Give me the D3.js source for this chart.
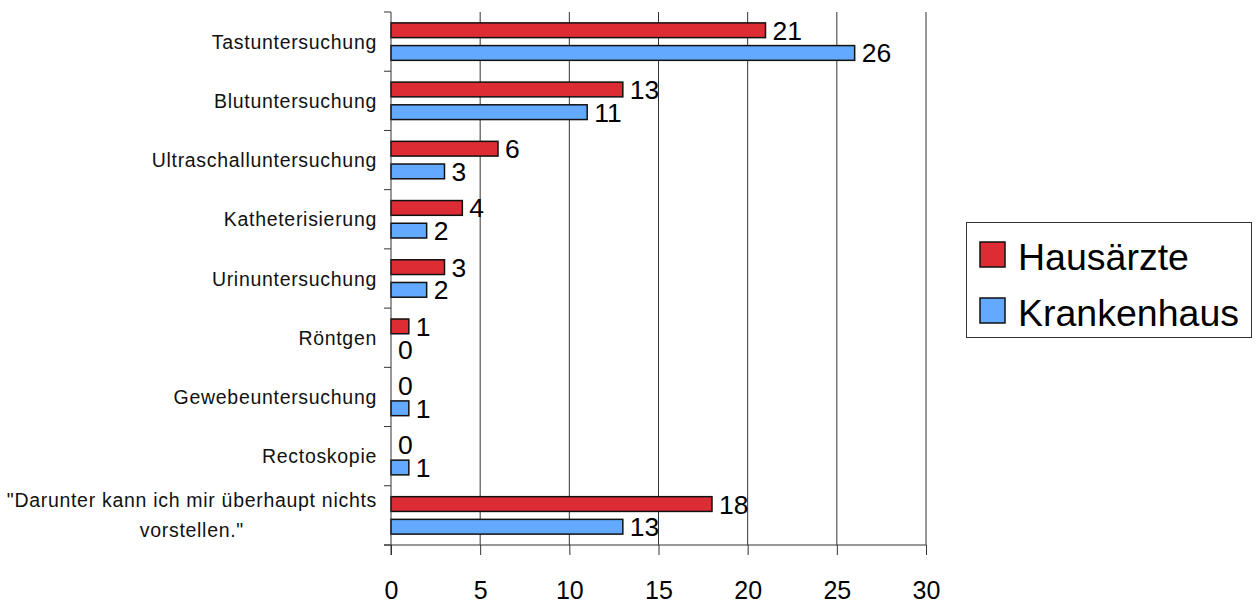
<!DOCTYPE html>
<html>
<head>
<meta charset="utf-8">
<script src="https://cdn.jsdelivr.net/npm/d3@7"></script>
<style>
  html, body { margin: 0; padding: 0; background: #fff; }
  svg { display: block; font-family: "Liberation Sans", Arial, sans-serif; }
</style>
</head>
<body>
<svg id="chart" width="1260" height="603"></svg>
<script>
// Untersuchungsarten, von oben nach unten
const categories = [
  "Tastuntersuchung",
  "Blutuntersuchung",
  "Ultraschalluntersuchung",
  "Katheterisierung",
  "Urinuntersuchung",
  "Röntgen",
  "Gewebeuntersuchung",
  "Rectoskopie",
  "\"Darunter kann ich mir überhaupt nichts|vorstellen.\""
];
const hausaerzte = [21, 13, 6, 4, 3, 1, 0, 0, 18];
const krankenhaus = [26, 11, 3, 2, 2, 0, 1, 1, 13];
const seriesNames = ["Hausärzte", "Krankenhaus"];
const seriesColors = ["#dd2c33", "#62a9ff"];
const xTicks = [0, 5, 10, 15, 20, 25, 30];

const series = [hausaerzte, krankenhaus];
const svg = d3.select("#chart");

const plot = { left: 391, right: 926, top: 12, bottom: 545 };

const x = d3.scaleLinear().domain([0, 30]).range([plot.left, plot.right]);
const y = d3.scaleBand().domain(categories).range([plot.top, plot.bottom]).paddingInner(0).paddingOuter(0);
const inner = d3.scaleBand().domain([0, 1]).range([0, y.bandwidth()]).paddingInner(0.35).paddingOuter(0.48);

// vertical gridlines
svg.append("g")
  .selectAll("line")
  .data(xTicks.filter(d => d > 0))
  .join("line")
  .attr("x1", d => x(d)).attr("x2", d => x(d))
  .attr("y1", plot.top).attr("y2", plot.bottom)
  .attr("stroke", "#333").attr("stroke-width", 1);

// bars
const groups = svg.append("g")
  .selectAll("g")
  .data(categories)
  .join("g")
  .attr("transform", d => `translate(0,${y(d)})`);

series.forEach((vals, si) => {
  groups.append("rect")
    .attr("x", x(0))
    .attr("y", inner(si))
    .attr("width", (d, i) => x(vals[i]) - x(0))
    .attr("height", inner.bandwidth())
    .attr("fill", seriesColors[si])
    .attr("stroke", "#111")
    .attr("stroke-width", 1.5)
    .attr("display", (d, i) => vals[i] === 0 ? "none" : null);

  groups.append("text")
    .attr("x", (d, i) => x(vals[i]) + 7)
    .attr("y", inner(si) + inner.bandwidth() / 2)
    .attr("dy", "0.36em")
    .attr("font-size", 26.5)
    .attr("fill", "#000")
    .text((d, i) => vals[i]);
});

// x axis
const xAxis = svg.append("g")
  .attr("transform", `translate(0,${plot.bottom})`)
  .call(d3.axisBottom(x).tickValues(xTicks).tickSize(10).tickPadding(26).tickSizeOuter(0));
xAxis.select(".domain").remove();
xAxis.append("line").attr("x1", plot.left - 7).attr("x2", plot.right).attr("stroke", "#333");
xAxis.selectAll(".tick line").attr("stroke", "#333");
xAxis.selectAll(".tick text")
  .attr("font-size", 25).attr("font-family", "Liberation Sans, Arial, sans-serif").attr("fill", "#000");

// y axis
const yAxis = svg.append("g").attr("transform", `translate(${plot.left},0)`);
yAxis.append("line").attr("y1", plot.top).attr("y2", plot.bottom + 10).attr("stroke", "#333");
yAxis.selectAll(".yt")
  .data(d3.range(categories.length + 1))
  .join("line")
  .attr("x1", -7).attr("x2", 0)
  .attr("y1", i => plot.top + i * y.step())
  .attr("y2", i => plot.top + i * y.step())
  .attr("stroke", "#333");

// category labels
const labelX = 377;
const labelSize = 19.5;
const labelSpacing = 0.7;
svg.append("g")
  .selectAll("g")
  .data(categories)
  .join("g")
  .each(function (d) {
    const lines = d.split("|");
    const g = d3.select(this);
    const cy = y(d) + y.bandwidth() / 2;
    if (lines.length === 1) {
      g.append("text")
        .attr("x", labelX).attr("y", cy).attr("dy", "0.36em")
        .attr("text-anchor", "end").attr("font-size", labelSize)
        .attr("letter-spacing", labelSpacing).attr("fill", "#111")
        .text(d);
    } else {
      const t = g.append("text").attr("font-size", labelSize)
        .attr("letter-spacing", labelSpacing).attr("fill", "#111");
      const spans = lines.map((ln, k) => t.append("tspan")
        .attr("y", cy + (k - (lines.length - 1) / 2) * 30).attr("dy", "0.36em").text(ln));
      const w = d3.max(spans, s => s.node().getComputedTextLength());
      const cx = labelX - w / 2;
      spans.forEach(s => s.attr("x", cx).attr("text-anchor", "middle"));
    }
  });

// legend
const legend = svg.append("g");
legend.append("rect")
  .attr("x", 966.5).attr("y", 222.5).attr("width", 285).attr("height", 115)
  .attr("fill", "#fff").attr("stroke", "#333").attr("stroke-width", 1);
seriesNames.forEach((name, i) => {
  const ly = 242 + i * 56;
  legend.append("rect")
    .attr("x", 980).attr("y", ly).attr("width", 25).attr("height", 25)
    .attr("fill", seriesColors[i]).attr("stroke", "#111").attr("stroke-width", 1.5);
  legend.append("text")
    .attr("x", 1018).attr("y", ly + 28)
    .attr("font-size", 37.5).attr("fill", "#000")
    .text(name);
});
</script>
</body>
</html>
